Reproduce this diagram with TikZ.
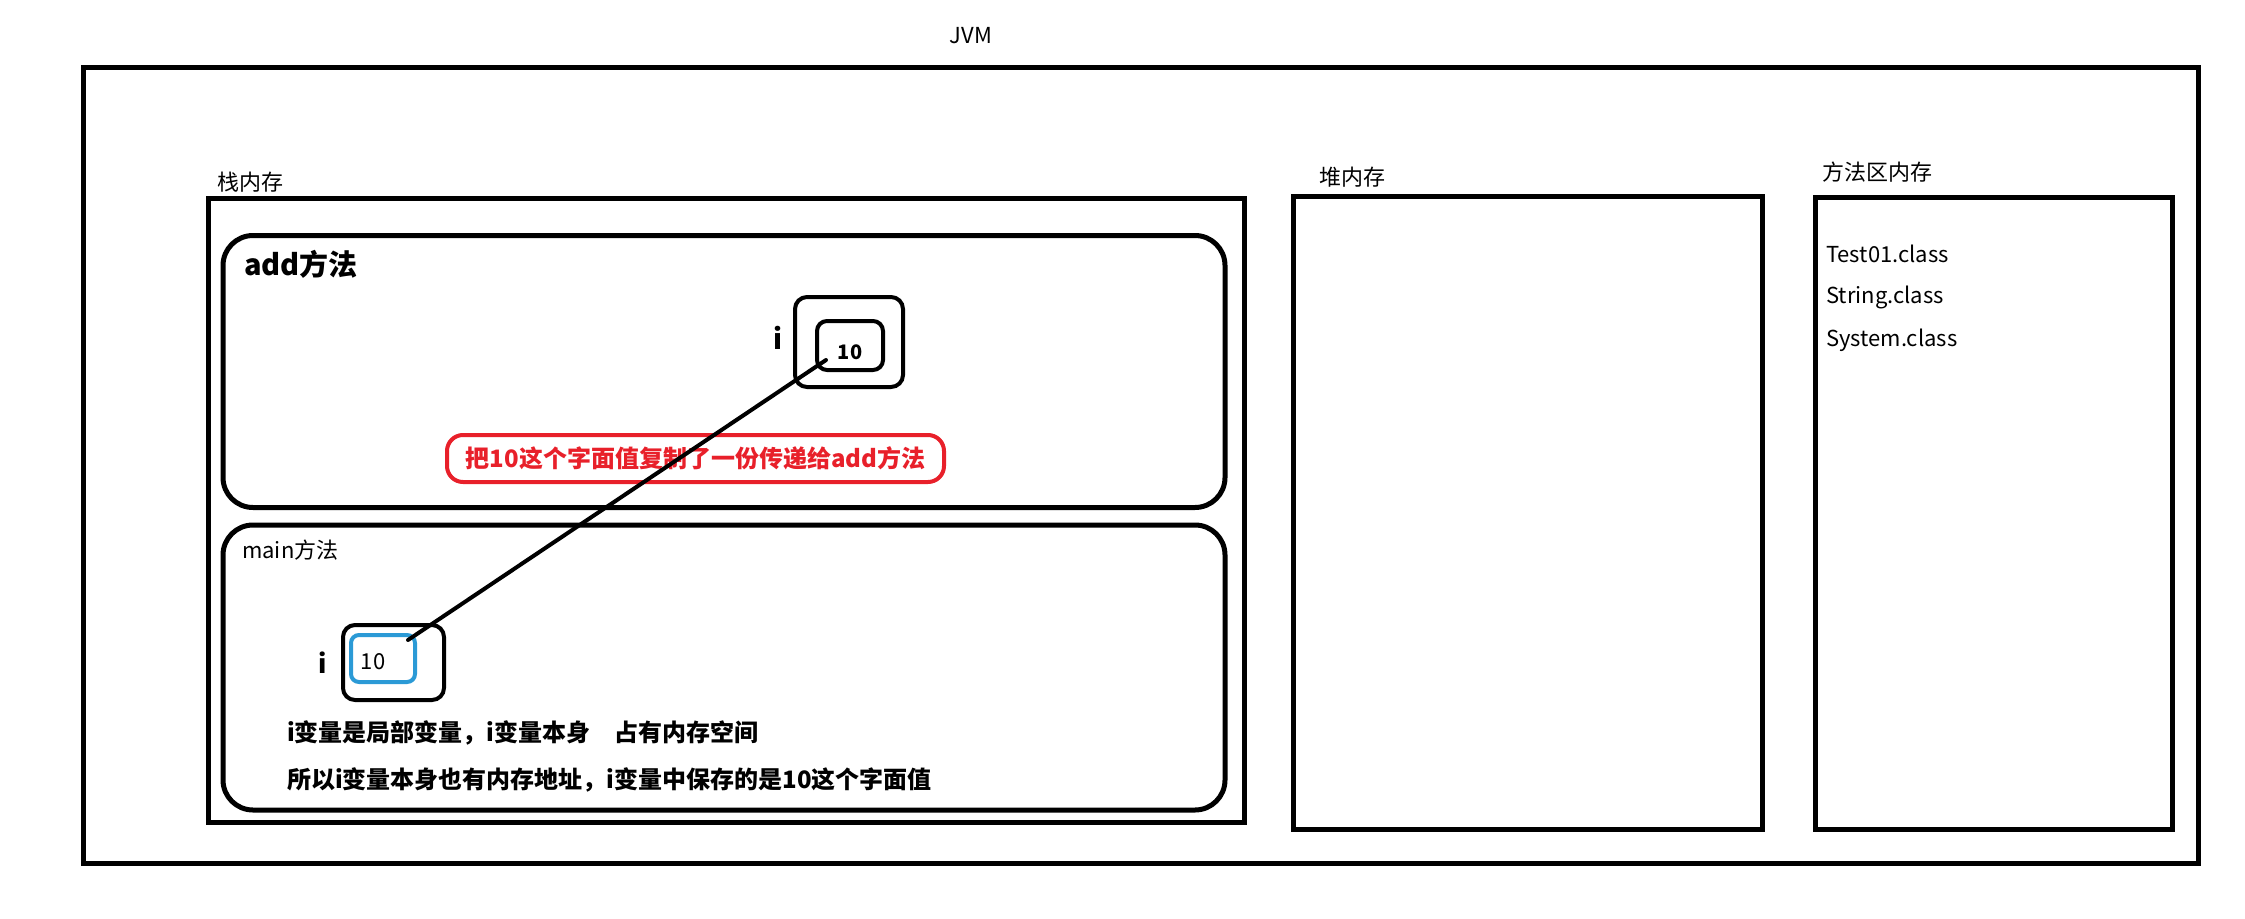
\documentclass[tikz,border=0pt]{standalone}
\usepackage{fontspec}
\setmainfont{Noto Sans CJK SC}
\usetikzlibrary{positioning,calc}
\definecolor{notered}{HTML}{E8202A}
\definecolor{cellblue}{HTML}{2B9AD6}

\begin{document}
\begin{tikzpicture}[x=1pt, y=-1pt,
  area/.style={draw, line width=5pt, inner sep=0pt},
  frame/.style={draw, line width=5pt, rounded corners=30pt, inner sep=0pt},
  cell/.style={draw, line width=4pt, rounded corners=12pt, inner sep=0pt},
  lbl/.style={font=\fontsize{22}{26}\selectfont, inner sep=0pt},
  note/.style={font=\bfseries\fontsize{24}{28}\selectfont, inner sep=0pt, anchor=west},
  link/.style={line width=4pt, line cap=round}]
\useasboundingbox (0,0) rectangle (2245,918);
% memory areas
\node[area, minimum width=2115pt, minimum height=796pt] (jvm) at (1140.5,465) {};
\node[lbl] (jvmlbl) at (971,36) {JVM};
\node[area, minimum width=1036pt, minimum height=624pt] (stack) at (726,510) {};
\node[lbl] (stacklbl) at (250,182) {栈内存};
\node[area, minimum width=469pt, minimum height=633pt] (heap) at (1527.5,512.5) {};
\node[lbl] (heaplbl) at (1352,177) {堆内存};
\node[area, minimum width=357pt, minimum height=632pt] (marea) at (1993.5,513) {};
\node[lbl] (marealbl) at (1877,172) {方法区内存};
\node[lbl, anchor=west] (cls1) at (1826,254) {Test01.class};
\node[lbl, anchor=west] (cls2) at (1826,297) {String.class};
\node[lbl, anchor=west] (cls3) at (1826,340) {System.class};
% add frame
\node[frame, minimum width=1002pt, minimum height=272pt] (addf) at (724,371.5) {};
\node[lbl, anchor=west, font=\bfseries\fontsize{29}{32}\selectfont] (addlbl) at (244,264) {add方法};
\node[cell, minimum width=108pt, minimum height=90pt] (addi) at (849,342) {};
\node[cell, rounded corners=10pt, minimum width=66pt, minimum height=49pt] (addv) at (850,345.5) {};
\node[lbl, font=\bfseries\fontsize{20}{24}\selectfont] (addnum) at (850,352) {10};
\node[lbl, font=\bfseries\fontsize{28}{32}\selectfont] (addvar) at (778,338) {i};
\node[draw=notered, line width=4pt, rounded corners=16pt, minimum width=497pt, minimum height=47pt,
  text=notered, font=\bfseries\fontsize{24}{28}\selectfont, inner sep=0pt] (copynote) at (695.5,458.5)
  {把10这个字面值复制了一份传递给add方法};
% main frame
\node[frame, minimum width=1002pt, minimum height=285pt] (mainf) at (724,667.5) {};
\node[lbl, anchor=west] (mainlbl) at (242,550) {main方法};
\node[cell, minimum width=101pt, minimum height=75pt] (maini) at (393.5,662.5) {};
\node[cell, draw=cellblue, rounded corners=8pt, minimum width=64pt, minimum height=47pt] (mainv) at (383,658.5) {};
\node[lbl] (mainnum) at (373,662) {10};
\node[lbl, font=\bfseries\fontsize{26}{30}\selectfont] (mainvar) at (323,663) {i};
\node[note] (note1) at (287,733) {i变量是局部变量，i变量本身　占有内存空间};
\node[note] (note2) at (287,780) {所以i变量本身也有内存地址，i变量中保存的是10这个字面值};
% value copied into add
\draw[link] ($(mainv.north east)+(-9,7)$) -- ($(addv.south west)+(11,-12)$);
\end{tikzpicture}
\end{document}
